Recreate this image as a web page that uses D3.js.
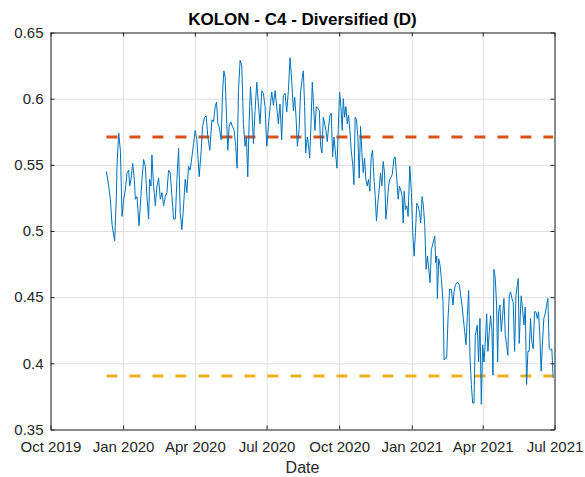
<!DOCTYPE html>
<html>
<head>
<style type="text/css">
body {
	margin: 0;
	background: #fff;
}
text {
	font-family: "Liberation Sans", Arial, sans-serif;
}
.tick text {
	font-size: 15px;
	fill: #262626;
}
.series {
	fill: none;
	stroke: #0072bd;
	stroke-width: 1;
}
.level {
	fill: none;
	stroke-width: 3;
	stroke-dasharray: 11 12;
}
#upper {
	stroke: #d95319;
}
#lower {
	stroke: #edb120;
}
.grid line {
	stroke: #dfdfdf;
	stroke-width: 1;
}
</style>
<script src="https://d3js.org/d3.v7.min.js"></script>
</head>
<body>
<script type="text/javascript">
var width  = 585;
var height = 477;

// days since 1 Oct 2019
var days = [70.9,73.8,75.9,78.0,81.4,83.5,84.4,86.5,88.6,90.7,92.8,94.9,97.0,99.1,100.4,102.1,104.2,106.3,107.6,109.7,112.2,113.9,116.0,118.1,120.2,122.3,124.4,125.7,127.4,128.6,130.7,132.9,135.0,137.1,139.2,141.3,143.4,145.5,147.6,149.7,151.8,154.0,156.1,158.2,160.3,162.4,164.5,166.6,168.7,170.8,172.9,175.0,177.1,179.3,181.4,183.5,185.6,188.5,
	191.1,192.8,195.3,197.4,199.5,202.0,204.6,206.7,208.8,210.5,212.2,213.8,216.4,218.1,219.8,221.4,223.5,224.8,226.5,228.6,230.7,232.8,234.9,236.6,238.3,240.4,242.5,244.6,246.7,248.4,250.1,251.8,253.5,255.2,257.3,259.4,261.5,263.6,265.7,267.8,269.9,272.0,274.2,276.3,278.4,280.5,282.6,284.7,286.8,288.9,291.0,293.1,295.2,297.4,299.5,301.6,303.7,
	305.8,307.9,309.6,311.3,313.0,315.1,317.2,319.3,320.6,322.2,323.5,325.6,326.9,328.6,330.3,331.9,333.6,335.3,337.0,339.1,340.8,342.5,344.2,345.9,347.6,349.2,350.9,352.6,354.3,356.0,357.7,359.4,361.0,363.2,364.8,366.5,368.2,369.9,371.2,372.9,374.5,376.2,377.9,379.6,381.3,383.4,384.7,386.3,388.0,389.7,391.4,393.1,394.8,396.5,398.2,399.8,401.5,403.2,404.9,406.6,408.3,410.0,411.7,413.3,415.0,416.7,418.4,420.1,421.8,423.5,425.2,426.8,428.5,
	430.2,433.2,435.3,437.0,439.1,440.8,442.4,444.1,445.8,447.1,448.4,450.0,451.7,453.4,455.5,457.6,459.3,461.0,462.7,464.4,466.1,467.8,469.4,471.1,472.8,474.5,476.2,477.9,479.6,481.2,482.9,485.0,487.2,488.4,489.7,490.5,492.2,493.9,495.6,497.7,499.0,500.7,502.3,504.0,506.1,508.2,510.3,511.6,513.3,515.0,516.7,518.4,520.1,521.7,523.4,525.1,526.8,528.5,530.2,531.9,533.6,535.2,536.9,538.6,
	541.1,542.8,544.5,546.2,547.9,549.6,551.3,553.0,554.6,556.3,558.0,559.7,561.0,562.2,563.9,565.6,566.9,568.1,569.8,571.5,573.2,574.9,576.6,578.3,579.9,581.6,583.3,585.0,586.7,588.4,590.1,591.8,593.0,594.3,595.6,596.8,598.5,600.2,601.9,603.6,605.3,606.9,608.6,610.3,612.0,613.7,615.4,617.1,618.8,620.4,622.1,623.8,625.5,627.2,628.9,630.6,632.3,633.9,635.6,637.3];

var values = [0.545,0.534,0.524,0.505,0.4925,0.526,0.551,0.574,0.561,0.511,0.524,0.531,0.544,0.546,0.534,0.539,0.551,0.539,0.524,0.526,0.504,0.519,0.539,0.554,0.549,0.526,0.509,0.539,0.534,0.5575,0.534,0.519,0.534,0.540,0.524,0.529,0.519,0.526,0.529,0.546,0.544,0.526,0.509,0.509,0.539,0.5625,0.514,0.501,0.519,0.539,0.529,0.549,0.546,0.556,0.566,0.576,0.569,0.541,
	0.561,0.579,0.586,0.587,0.571,0.561,0.584,0.5825,0.594,0.5975,0.581,0.579,0.569,0.604,0.621,0.616,0.581,0.561,0.579,0.5825,0.579,0.576,0.564,0.5475,0.606,0.629,0.625,0.581,0.564,0.571,0.541,0.581,0.609,0.594,0.566,0.591,0.6125,0.596,0.581,0.606,0.604,0.594,0.564,0.579,0.594,0.605,0.595,0.606,0.594,0.581,0.596,0.569,0.6025,0.604,0.59,0.606,0.631,
	0.614,0.591,0.601,0.586,0.564,0.576,0.606,0.616,0.621,0.594,0.559,0.571,0.566,0.555,0.581,0.6125,0.594,0.576,0.594,0.5925,0.591,0.564,0.559,0.586,0.581,0.576,0.5675,0.579,0.5875,0.589,0.556,0.571,0.561,0.5475,0.576,0.605,0.594,0.576,0.6,0.586,0.594,0.581,0.5875,0.576,0.561,0.549,0.535,0.586,0.584,0.571,0.54,0.579,0.559,0.544,0.555,0.539,0.534,0.539,0.53,0.556,0.561,0.541,0.526,0.5075,0.521,0.531,0.544,0.534,0.5525,0.544,0.509,0.519,0.534,
	0.539,0.5425,0.554,0.556,0.539,0.524,0.534,0.531,0.526,0.506,0.53,0.516,0.519,0.511,0.549,0.529,0.499,0.481,0.499,0.521,0.519,0.514,0.506,0.526,0.519,0.504,0.471,0.481,0.471,0.461,0.486,0.491,0.496,0.476,0.481,0.449,0.479,0.474,0.464,0.446,0.4025,0.404,0.404,0.434,0.456,0.456,0.444,0.454,0.459,0.461,0.461,0.459,0.451,0.444,0.434,0.424,0.414,0.436,0.455,0.404,0.384,0.37,0.37,0.421,
	0.429,0.401,0.434,0.369,0.414,0.401,0.416,0.4375,0.409,0.424,0.436,0.424,0.391,0.471,0.464,0.444,0.401,0.439,0.444,0.424,0.436,0.449,0.421,0.414,0.406,0.451,0.454,0.449,0.446,0.409,0.451,0.459,0.464,0.415,0.436,0.451,0.441,0.429,0.4425,0.384,0.409,0.409,0.434,0.416,0.411,0.439,0.439,0.434,0.439,0.421,0.394,0.416,0.434,0.4375,0.444,0.449,0.411,0.41,0.411,0.389];

var upperLevel = 0.571;
var lowerLevel = 0.3905;

var xTickDates  = ["2019-10-01","2020-01-01","2020-04-01","2020-07-01","2020-10-01","2021-01-01","2021-04-01","2021-07-01"];
var xTickLabels = ["Oct 2019","Jan 2020","Apr 2020","Jul 2020","Oct 2020","Jan 2021","Apr 2021","Jul 2021"];
var yTicks      = [0.35,0.4,0.45,0.5,0.55,0.6,0.65];
var yTickLabels = ["0.35","0.4","0.45","0.5","0.55","0.6","0.65"];

var margin = {top: 32.5, right: 30.5, bottom: 47.5, left: 50.5};
var w = width - margin.left - margin.right;
var h = height - margin.top - margin.bottom;

var day0 = Date.UTC(2019, 9, 1);
function toDate(d) { return new Date(day0 + d * 864e5); }
var data = days.map(function(d, i) { return {date: toDate(d), value: values[i]}; });
var tickDates = xTickDates.map(function(s) { return new Date(s + "T00:00:00Z"); });

var x = d3.scaleUtc().domain([tickDates[0], tickDates[tickDates.length - 1]]).range([0, w]);
var y = d3.scaleLinear().domain([0.35, 0.65]).range([h, 0]);

var svg = d3.select("body").append("svg").attr("width", width).attr("height", height);
var g = svg.append("g").attr("transform", "translate(" + margin.left + "," + margin.top + ")");

// grid
g.append("g").attr("class", "grid")
	.call(d3.axisBottom(x).tickValues(tickDates).tickSize(h).tickFormat(""))
	.call(function(s) { s.select(".domain").remove(); });
g.append("g").attr("class", "grid")
	.call(d3.axisRight(y).tickValues(yTicks).tickSize(w).tickFormat(""))
	.call(function(s) { s.select(".domain").remove(); });

// level lines
var first = data[0].date, last = data[data.length - 1].date;
g.append("line").attr("class", "level").attr("id", "upper")
	.attr("x1", x(first)).attr("x2", x(last)).attr("y1", y(upperLevel)).attr("y2", y(upperLevel));
g.append("line").attr("class", "level").attr("id", "lower")
	.attr("x1", x(first)).attr("x2", x(last)).attr("y1", y(lowerLevel)).attr("y2", y(lowerLevel));

// series
var line = d3.line()
	.x(function(d) { return x(d.date); })
	.y(function(d) { return y(d.value); });
g.append("path").datum(data).attr("class", "series").attr("d", line);

// axes
var axisColor = "#262626";
var xb = g.append("g").attr("transform", "translate(0," + h + ")")
	.call(d3.axisBottom(x).tickValues(tickDates).tickSizeInner(-4).tickSizeOuter(0).tickPadding(12)
		.tickFormat(function(d, i) { return xTickLabels[i]; }));
var xt = g.append("g")
	.call(d3.axisTop(x).tickValues(tickDates).tickSizeInner(-4).tickSizeOuter(0).tickFormat(""));
var yl = g.append("g")
	.call(d3.axisLeft(y).tickValues(yTicks).tickSizeInner(-4).tickSizeOuter(0).tickPadding(7)
		.tickFormat(function(d, i) { return yTickLabels[i]; }));
var yr = g.append("g").attr("transform", "translate(" + w + ",0)")
	.call(d3.axisRight(y).tickValues(yTicks).tickSizeInner(-4).tickSizeOuter(0).tickFormat(""));
[xb, xt, yl, yr].forEach(function(a) {
	a.selectAll("path, line").attr("stroke", axisColor);
	a.selectAll("text").attr("font-family", null).attr("font-size", null);
	a.attr("font-family", null).attr("font-size", null);
});

// title and label
svg.append("text")
	.attr("x", margin.left + w / 2).attr("y", 25)
	.attr("text-anchor", "middle")
	.style("font-size", "17px").style("font-weight", "bold").style("fill", "#000")
	.text("KOLON - C4 - Diversified (D)");
svg.append("text")
	.attr("x", margin.left + w / 2).attr("y", 473)
	.attr("text-anchor", "middle")
	.style("font-size", "16px").style("fill", "#262626")
	.text("Date");
</script>
</body>
</html>
